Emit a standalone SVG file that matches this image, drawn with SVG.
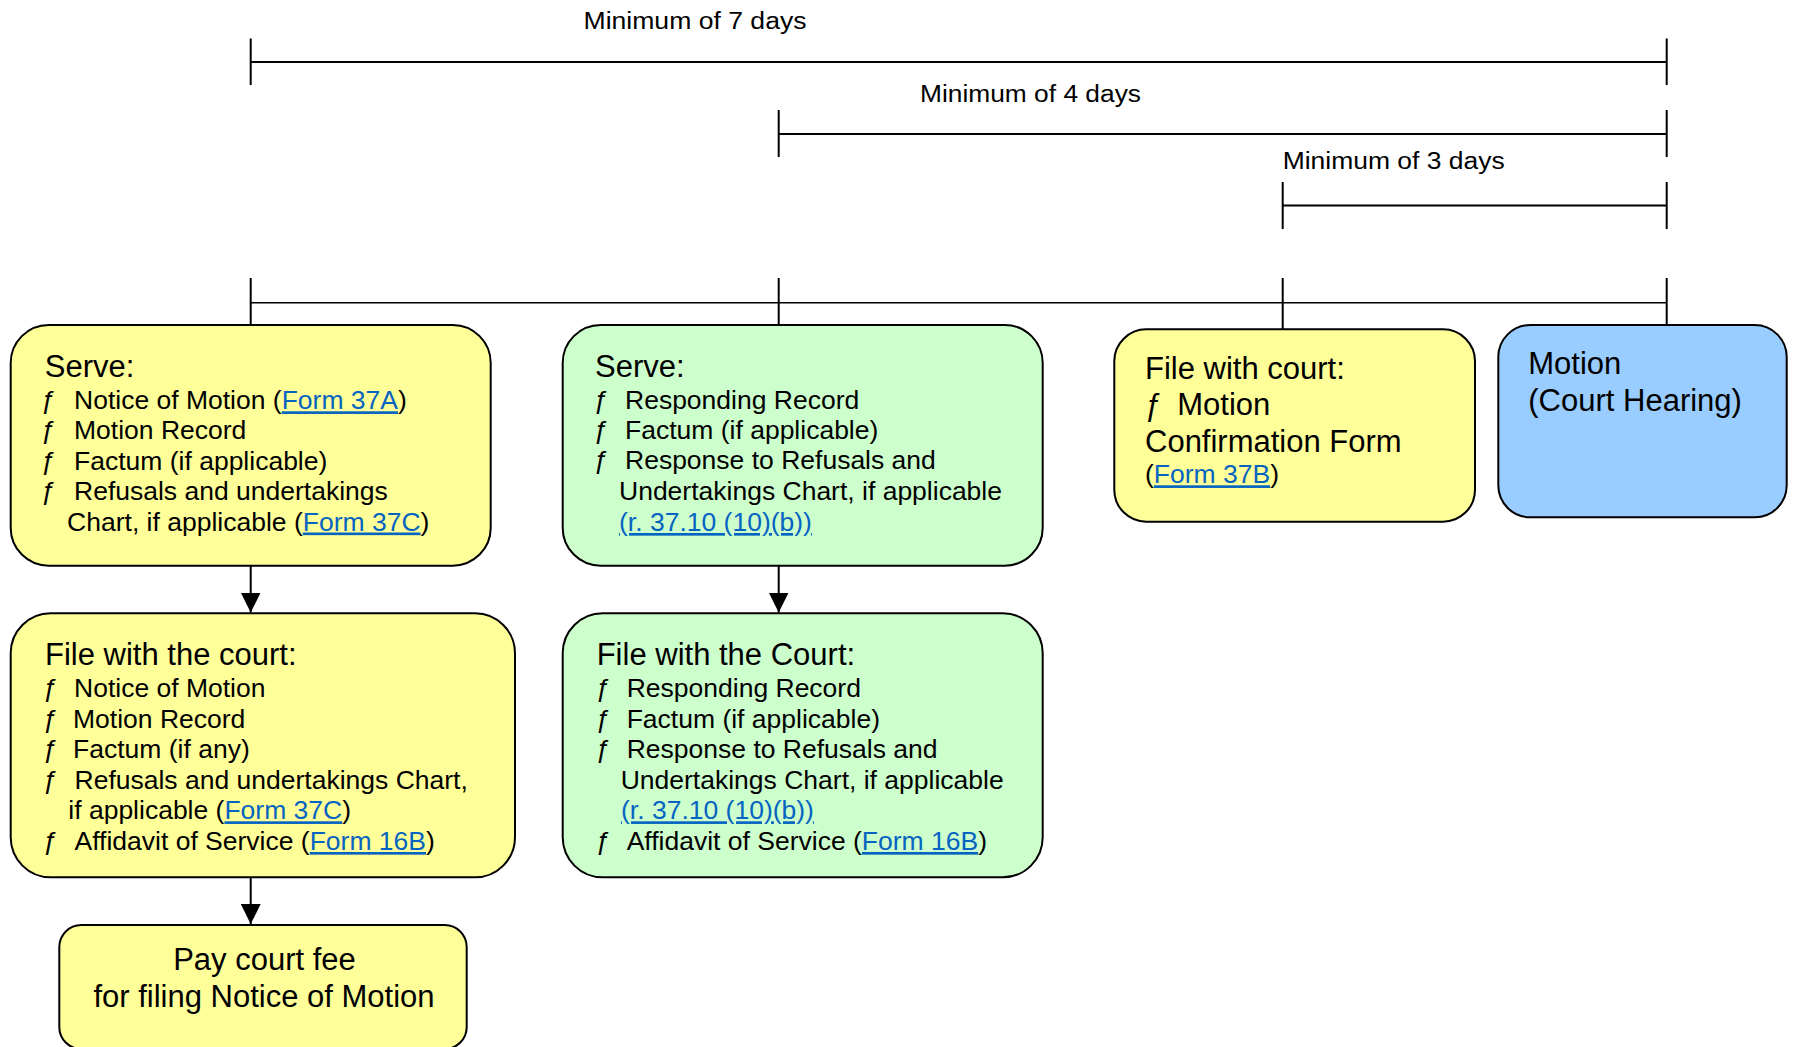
<svg xmlns="http://www.w3.org/2000/svg" width="1793" height="1047" viewBox="0 0 1793 1047">
<style>
text{font-family:"Liberation Sans",Arial,sans-serif;fill:#000}
.box{stroke:#000;stroke-width:2}
.y{fill:#FFFF99}
.g{fill:#CCFFCC}
.b{fill:#99CCFF}
.h{font-size:31px}
.li{font-size:26.5px}
.tl{font-size:23px}
.lnk{fill:#0563C1;text-decoration:underline}
.ln{stroke:#000;stroke-width:2;fill:none}
.base{stroke:#000;stroke-width:1.6;fill:none}
</style>
<defs>
<marker id="arr" markerUnits="userSpaceOnUse" markerWidth="20" markerHeight="20" refX="20" refY="10" orient="auto">
<path d="M0,0 L20,10 L0,20 Z" fill="#000"/>
</marker>
</defs>

<g id="timeline">
<path class="ln" d="M250.7,38.5 V85 M250.7,62 H1666.7 M1666.7,38.5 V85"/>
<path class="ln" d="M778.7,110 V157 M778.7,134 H1666.7 M1666.7,110 V157"/>
<path class="ln" d="M1282.7,182 V229 M1282.7,205.5 H1666.7 M1666.7,182 V229"/>
<text class="tl" x="583.5" y="28.5" textLength="223" lengthAdjust="spacingAndGlyphs">Minimum of 7 days</text>
<text class="tl" x="920" y="101.5" textLength="221" lengthAdjust="spacingAndGlyphs">Minimum of 4 days</text>
<text class="tl" x="1282.7" y="169.3" textLength="222" lengthAdjust="spacingAndGlyphs">Minimum of 3 days</text>
</g>

<g id="connectors">
<path class="base" d="M250.7,302.7 H1666.7"/>
<path class="ln" d="M250.7,278 V325 M778.7,278 V325 M1282.7,278 V329.3 M1666.7,278 V325"/>
<line class="ln" x1="250.7" y1="565.7" x2="250.7" y2="612.5" marker-end="url(#arr)"/>
<line class="ln" x1="778.7" y1="565.7" x2="778.7" y2="612.5" marker-end="url(#arr)"/>
<line class="ln" x1="250.7" y1="877.3" x2="250.7" y2="924" marker-end="url(#arr)"/>
</g>

<g id="serve-moving">
<rect class="box y" x="10.7" y="325" width="480" height="240.7" rx="38" ry="38"/>
<text class="h" x="44.8" y="377">Serve:</text>
<text class="li" x="41.3" y="409.3">ƒ</text>
<text class="li" x="74" y="409.3">Notice of Motion (<tspan class="lnk">Form 37A</tspan>)</text>
<text class="li" x="41.3" y="439.3">ƒ</text>
<text class="li" x="74" y="439.3">Motion Record</text>
<text class="li" x="41.3" y="469.5">ƒ</text>
<text class="li" x="74" y="469.5">Factum (if applicable)</text>
<text class="li" x="41.3" y="499.8">ƒ</text>
<text class="li" x="74" y="499.8">Refusals and undertakings</text>
<text class="li" x="67.1" y="530.5">Chart, if applicable (<tspan class="lnk">Form 37C</tspan>)</text>
</g>

<g id="serve-responding">
<rect class="box g" x="562.7" y="325" width="480" height="240.7" rx="38" ry="38"/>
<text class="h" x="595" y="377">Serve:</text>
<text class="li" x="594" y="408.7">ƒ</text>
<text class="li" x="625" y="408.7">Responding Record</text>
<text class="li" x="594" y="438.5">ƒ</text>
<text class="li" x="625" y="438.5">Factum (if applicable)</text>
<text class="li" x="594" y="469.3">ƒ</text>
<text class="li" x="625" y="469.3">Response to Refusals and</text>
<text class="li" x="619" y="500">Undertakings Chart, if applicable</text>
<text class="li lnk" x="619" y="531">(r. 37.10 (10)(b))</text>
</g>

<g id="file-confirmation">
<rect class="box y" x="1114.3" y="329.3" width="360.7" height="192.4" rx="32" ry="32"/>
<text class="h" x="1145" y="379">File with court:</text>
<text class="h" x="1145" y="415">ƒ</text>
<text class="h" x="1177.3" y="415">Motion</text>
<text class="h" x="1145" y="451.7">Confirmation Form</text>
<text class="li" x="1145" y="483.3">(<tspan class="lnk">Form 37B</tspan>)</text>
</g>

<g id="motion-hearing">
<rect class="box b" x="1498.3" y="325" width="288.4" height="192.3" rx="32" ry="32"/>
<text class="h" x="1528.3" y="374">Motion</text>
<text class="h" x="1528.3" y="410.7">(Court Hearing)</text>
</g>

<g id="file-moving">
<rect class="box y" x="10.7" y="613.3" width="504.3" height="264" rx="40" ry="40"/>
<text class="h" x="45" y="665">File with the court:</text>
<text class="li" x="43.3" y="697.3">ƒ</text>
<text class="li" x="74" y="697.3">Notice of Motion</text>
<text class="li" x="43.3" y="727.7">ƒ</text>
<text class="li" x="73" y="727.7">Motion Record</text>
<text class="li" x="43.3" y="758.3">ƒ</text>
<text class="li" x="73" y="758.3">Factum (if any)</text>
<text class="li" x="43.3" y="788.5">ƒ</text>
<text class="li" x="74.5" y="788.5">Refusals and undertakings Chart,</text>
<text class="li" x="68.3" y="819.3">if applicable (<tspan class="lnk">Form 37C</tspan>)</text>
<text class="li" x="43.3" y="850">ƒ</text>
<text class="li" x="74.5" y="850">Affidavit of Service (<tspan class="lnk">Form 16B</tspan>)</text>
</g>

<g id="file-responding">
<rect class="box g" x="562.7" y="613.3" width="480" height="264" rx="40" ry="40"/>
<text class="h" x="596.7" y="665">File with the Court:</text>
<text class="li" x="596" y="697.3">ƒ</text>
<text class="li" x="626.7" y="697.3">Responding Record</text>
<text class="li" x="596" y="727.7">ƒ</text>
<text class="li" x="626.7" y="727.7">Factum (if applicable)</text>
<text class="li" x="596" y="758.3">ƒ</text>
<text class="li" x="626.7" y="758.3">Response to Refusals and</text>
<text class="li" x="620.7" y="788.5">Undertakings Chart, if applicable</text>
<text class="li lnk" x="621" y="819.3">(r. 37.10 (10)(b))</text>
<text class="li" x="596" y="850">ƒ</text>
<text class="li" x="626.7" y="850">Affidavit of Service (<tspan class="lnk">Form 16B</tspan>)</text>
</g>

<g id="pay-fee">
<rect class="box y" x="59.3" y="925" width="407.4" height="124" rx="22" ry="22"/>
<text class="h" x="264.5" y="970" text-anchor="middle">Pay court fee</text>
<text class="h" x="264" y="1006.7" text-anchor="middle">for filing Notice of Motion</text>
</g>
</svg>
